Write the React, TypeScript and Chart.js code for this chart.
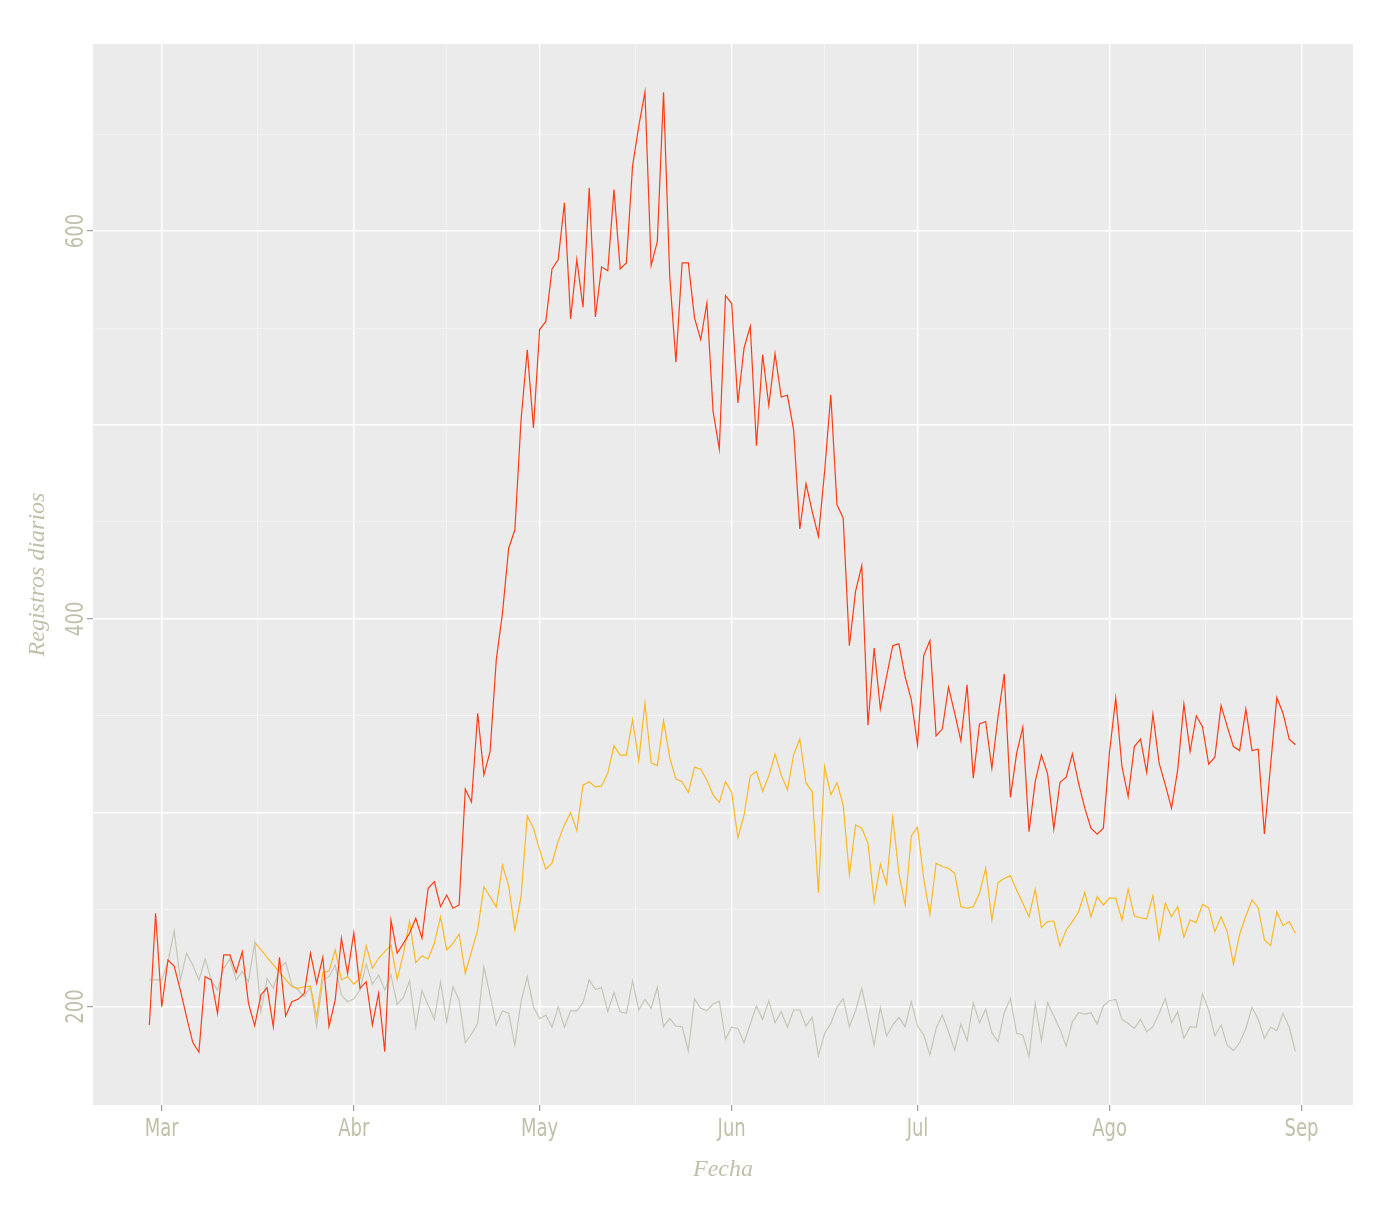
import React, { useEffect, useRef } from 'react';
import { Chart, registerables } from 'chart.js';

Chart.register(...registerables);

// Day index 0 = 1 March; the series start on 28 February (index -2) and end on 31 August (index 183)
const FIRST_DAY = -2;

const MONTH_LABELS = ['Mar', 'Abr', 'May', 'Jun', 'Jul', 'Ago', 'Sep'];
const MONTH_STARTS = [0, 31, 61, 92, 122, 153, 184];
const Y_TICKS = [200, 400, 600];
const Y_GRID = [200, 250, 300, 350, 400, 450, 500, 550, 600, 650];

const RED = [
  190.5, 248.1, 199.9, 224.0, 220.9, 208.5, 194.7, 181.5, 176.4, 215.4,
  213.7, 196.5, 226.6, 226.6, 217.5, 228.3, 201.6, 190.1, 205.9, 209.7,
  189.6, 225.4, 195.1, 202.5, 203.7, 206.8, 227.5, 212.0, 225.4, 189.6,
  203.4, 235.2, 217.0, 238.0, 209.4, 212.8, 190.5, 206.8, 176.7, 244.6,
  227.5, 232.6, 237.8, 245.5, 235.2, 261.0, 264.4, 251.5, 257.5, 250.7,
  252.4, 312.1, 305.5, 351.3, 319.5, 331.5, 378.8, 402.9, 436.4, 445.9,
  502.7, 538.8, 498.4, 549.2, 553.4, 580.5, 585.3, 614.6, 554.7, 585.3,
  560.7, 622.3, 555.7, 581.5, 579.5, 621.4, 580.5, 583.6, 633.5, 654.1,
  671.8, 582.2, 594.7, 671.6, 576.7, 532.3, 583.6, 583.6, 555.2, 544.0,
  562.9, 507.0, 487.5, 566.7, 562.6, 511.3, 539.7, 550.9, 489.3, 536.3,
  509.9, 536.8, 514.4, 515.3, 497.5, 446.3, 469.7, 455.4, 442.5, 476.0,
  515.6, 458.8, 452.0, 386.1, 414.1, 427.4, 345.1, 384.9, 353.5, 370.2,
  386.1, 387.1, 370.2, 358.2, 335.0, 381.0, 388.8, 339.6, 343.1, 364.7,
  351.3, 337.0, 365.9, 317.8, 345.8, 347.0, 322.9, 349.6, 371.6, 307.9,
  330.6, 344.1, 290.2, 316.0, 329.8, 320.0, 291.5, 315.7, 318.3, 330.3,
  315.2, 302.3, 292.0, 288.9, 292.0, 331.5, 359.1, 323.8, 308.3, 334.1,
  337.9, 320.7, 350.8, 325.5, 314.3, 302.3, 322.1, 356.0, 331.5, 349.9,
  344.4, 325.0, 328.6, 355.3, 344.4, 334.1, 332.0, 353.4, 332.0, 332.7,
  289.0, 324.6, 359.4, 351.3, 337.9, 335.0,
];

const ORANGE = [
  null, null, null, null, null, null, null, null, null, null,
  null, null, null, null, null, null, null, 233.1, 229.3, 225.4,
  221.6, 217.8, 214.0, 210.2, 209.4, 210.2, 210.5, 194.7, 217.5, 218.3,
  229.2, 213.7, 215.4, 211.6, 214.5, 231.4, 219.7, 224.9, 228.3, 231.7,
  214.0, 227.1, 243.8, 222.6, 226.1, 224.5, 232.6, 246.3, 229.2, 232.6,
  237.4, 217.1, 228.3, 239.5, 261.8, 256.7, 251.2, 273.0, 262.2, 239.5,
  256.7, 298.3, 292.0, 280.8, 270.8, 273.9, 285.4, 293.7, 300.0, 290.7,
  314.2, 315.9, 313.3, 313.8, 320.4, 334.6, 329.7, 329.7, 347.9, 326.7,
  356.5, 325.7, 324.3, 347.5, 328.4, 317.3, 316.0, 310.5, 323.5, 322.4,
  316.9, 309.2, 305.2, 316.0, 310.5, 287.0, 298.8, 319.0, 321.2, 310.9,
  319.0, 330.2, 319.5, 311.7, 329.8, 338.1, 315.2, 310.9, 258.7, 323.8,
  309.2, 315.5, 304.0, 267.9, 293.7, 292.0, 284.2, 254.1, 273.5, 263.2,
  297.7, 268.7, 252.4, 288.0, 292.5, 266.0, 247.5, 273.9, 272.2, 271.3,
  268.7, 251.5, 250.7, 251.5, 258.4, 271.3, 244.6, 263.9, 266.2, 267.4,
  260.1, 253.3, 246.3, 260.5, 240.7, 243.8, 244.1, 231.2, 239.5, 243.8,
  248.9, 258.9, 246.3, 256.7, 252.4, 256.0, 255.8, 244.6, 260.5, 246.7,
  245.8, 245.2, 257.2, 234.7, 253.3, 246.3, 251.5, 235.7, 244.6, 243.4,
  252.7, 251.0, 238.6, 246.3, 238.6, 221.9, 237.3, 246.7, 255.0, 251.0,
  234.3, 231.4, 248.9, 241.7, 243.8, 237.8,
];

const GRAY = [
  213.7, 213.7, 213.7, 223.1, 239.1, 213.7, 227.5, 221.4, 213.7, 224.5,
  213.7, 208.5, 219.7, 224.5, 213.7, 218.0, 212.8, 233.1, 197.3, 214.5,
  209.4, 219.7, 222.8, 211.1, 208.5, 205.1, 210.2, 189.6, 213.7, 215.4,
  221.4, 205.9, 202.5, 204.0, 208.5, 221.9, 211.6, 216.3, 208.5, 216.3,
  201.1, 204.7, 213.3, 189.3, 208.2, 200.8, 193.4, 212.8, 192.2, 210.2,
  203.4, 181.3, 185.8, 191.3, 220.5, 205.9, 190.5, 197.7, 196.5, 180.1,
  202.5, 215.4, 199.9, 193.7, 195.6, 189.3, 199.9, 189.3, 197.8, 197.8,
  202.0, 213.7, 208.9, 209.7, 197.3, 207.3, 197.3, 196.5, 213.2, 198.2,
  203.7, 199.1, 209.9, 189.6, 193.9, 189.9, 189.6, 177.2, 203.9, 199.1,
  197.8, 201.3, 202.8, 183.1, 189.3, 188.7, 181.3, 191.0, 200.3, 193.4,
  203.0, 191.6, 197.3, 189.3, 198.2, 198.2, 189.9, 194.4, 174.5, 186.2,
  191.3, 199.6, 204.2, 189.6, 197.8, 209.4, 194.7, 180.1, 199.6, 184.8,
  190.5, 194.4, 189.6, 202.5, 189.9, 185.3, 175.0, 188.7, 195.6, 187.0,
  177.5, 191.0, 182.4, 202.0, 191.6, 198.6, 186.5, 181.8, 196.8, 204.2,
  186.2, 185.3, 174.1, 201.6, 182.4, 202.0, 195.1, 188.2, 179.6, 192.2,
  196.8, 196.1, 196.8, 191.0, 200.3, 203.0, 203.7, 193.4, 191.3, 188.7,
  193.4, 187.0, 189.6, 196.5, 204.2, 191.6, 197.3, 183.6, 189.6, 189.3,
  206.5, 198.2, 184.8, 190.5, 180.1, 177.2, 181.3, 188.7, 199.6, 193.4,
  183.6, 189.3, 187.5, 196.5, 189.3, 176.7,
];

const RED_COLOR = '#FF3D14';
const ORANGE_COLOR = '#FBBA22';
const GRAY_COLOR = '#C6C6B6';
const TEXT_COLOR = '#C0C0AA';
const PANEL_COLOR = '#EBEBEB';
const TICK_FONT = "'Liberation Sans Narrow', 'DejaVu Sans Condensed', 'Liberation Sans', sans-serif";
const TITLE_FONT = "'Liberation Serif', 'DejaVu Serif', serif";

export default function App() {
  const ref = useRef<HTMLCanvasElement>(null);

  useEffect(() => {
    document.body.style.margin = '0';
    document.body.style.overflow = 'hidden';
    const canvas = ref.current;
    if (!canvas) return;

    const toPoints = (arr: (number | null)[]) =>
      arr.map((v, i) => ({ x: FIRST_DAY + i, y: v }));

    const minorX = MONTH_STARTS.slice(0, -1).map((m, i) => (m + MONTH_STARTS[i + 1]) / 2);
    const xGrid = [...MONTH_STARTS, ...minorX].sort((a, b) => a - b);
    const isMajorX = (v: number) => MONTH_STARTS.includes(v);
    const isMajorY = (v: number) => v % 100 === 0;

    const panelPlugin = {
      id: 'panel',
      beforeDraw(chart: any) {
        const { ctx, chartArea } = chart;
        ctx.save();
        ctx.fillStyle = '#FFFFFF';
        ctx.fillRect(0, 0, chart.width, chart.height);
        ctx.fillStyle = PANEL_COLOR;
        ctx.fillRect(chartArea.left, chartArea.top, chartArea.right - chartArea.left, chartArea.bottom - chartArea.top);
        ctx.restore();
      },
    };

    const textPlugin = {
      id: 'texts',
      afterDraw(chart: any) {
        const { ctx, chartArea } = chart;
        const xs = chart.scales.x;
        const ys = chart.scales.y;
        ctx.save();
        ctx.fillStyle = TEXT_COLOR;
        ctx.textAlign = 'center';
        ctx.textBaseline = 'alphabetic';
        ctx.font = `25px ${TICK_FONT}`;
        MONTH_STARTS.forEach((v, i) => {
          const px = xs.getPixelForValue(v);
          ctx.save();
          ctx.translate(px, chartArea.bottom + 31);
          ctx.scale(0.8, 1);
          ctx.fillText(MONTH_LABELS[i], 0, 0);
          ctx.restore();
        });
        Y_TICKS.forEach((v) => {
          const py = ys.getPixelForValue(v);
          ctx.save();
          ctx.translate(chartArea.left - 10, py);
          ctx.rotate(-Math.PI / 2);
          ctx.scale(0.8, 1);
          ctx.fillText(String(v), 0, 0);
          ctx.restore();
        });
        ctx.font = `italic 24px ${TITLE_FONT}`;
        ctx.fillText('Fecha', (chartArea.left + chartArea.right) / 2, chartArea.bottom + 71);
        ctx.save();
        ctx.translate(chartArea.left - 49, (chartArea.top + chartArea.bottom) / 2);
        ctx.rotate(-Math.PI / 2);
        ctx.fillText('Registros diarios', 0, 0);
        ctx.restore();
        ctx.restore();
      },
    };

    const lineDs = (label: string, arr: (number | null)[], color: string, order: number) => ({
      label,
      data: toPoints(arr),
      borderColor: color,
      backgroundColor: color,
      borderWidth: 1.2,
      pointRadius: 0,
      pointHoverRadius: 0,
      tension: 0,
      spanGaps: false,
      fill: false,
      order,
    });

    const chart = new Chart(canvas, {
      type: 'line',
      data: {
        datasets: [
          lineDs('Rojo', RED, RED_COLOR, 1),
          lineDs('Naranja', ORANGE, ORANGE_COLOR, 2),
          lineDs('Gris', GRAY, GRAY_COLOR, 3),
        ],
      },
      options: {
        responsive: false,
        animation: false,
        events: [],
        layout: { padding: { top: 44, right: 47, left: 0, bottom: 0 } },
        plugins: {
          legend: { display: false },
          tooltip: { enabled: false },
          title: { display: false },
        },
        scales: {
          x: {
            type: 'linear',
            min: -11.1,
            max: 192.3,
            afterBuildTicks: (s: any) => {
              s.ticks = xGrid.map((v) => ({ value: v }));
            },
            afterFit: (s: any) => {
              s.height = 108;
            },
            ticks: { display: false },
            border: { display: false },
            grid: {
              drawTicks: true,
              tickLength: 6,
              color: (c: any) => (c.tick && isMajorX(c.tick.value) ? '#FFFFFF' : '#F3F3F3'),
              lineWidth: (c: any) => (c.tick && isMajorX(c.tick.value) ? 1.4 : 1),
              tickColor: (c: any) => (c.tick && isMajorX(c.tick.value) ? '#8A8A8A' : 'rgba(0,0,0,0)'),
              tickWidth: 1,
            },
          },
          y: {
            type: 'linear',
            min: 149.2,
            max: 696.5,
            afterBuildTicks: (s: any) => {
              s.ticks = Y_GRID.map((v) => ({ value: v }));
            },
            afterFit: (s: any) => {
              s.width = 93;
            },
            ticks: { display: false },
            border: { display: false },
            grid: {
              drawTicks: true,
              tickLength: 6,
              color: (c: any) => (c.tick && isMajorY(c.tick.value) ? '#FFFFFF' : '#F3F3F3'),
              lineWidth: (c: any) => (c.tick && isMajorY(c.tick.value) ? 1.4 : 1),
              tickColor: (c: any) =>
                c.tick && Y_TICKS.includes(c.tick.value) ? '#8A8A8A' : 'rgba(0,0,0,0)',
              tickWidth: 1,
            },
          },
        },
      },
      plugins: [panelPlugin, textPlugin],
    });

    return () => chart.destroy();
  }, []);

  return <canvas ref={ref} width={1400} height={1213} style={{ display: 'block' }} />;
}
